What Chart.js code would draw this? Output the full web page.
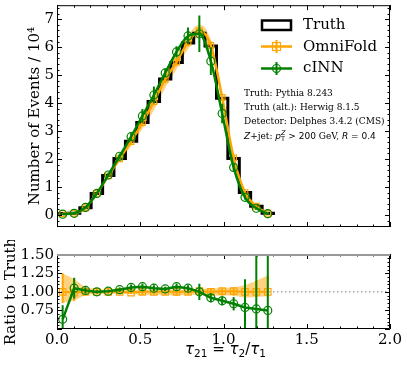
<!DOCTYPE html>
<html><head><meta charset="utf-8">
<script src="https://cdn.jsdelivr.net/npm/chart.js@4.4.0/dist/chart.umd.min.js"></script>
<style>
html,body{margin:0;padding:0;background:#fff;}
#wrap{position:relative;width:407px;height:368px;overflow:hidden;}
canvas{position:absolute;left:0;}
</style></head><body>
<div id="wrap">
<canvas id="top" width="407" height="240" style="top:0;width:407px;height:240px"></canvas>
<canvas id="bot" width="407" height="128" style="top:240px;width:407px;height:128px"></canvas>
</div>
<script>
// ---- data ----
const binEdges   = [0, 0.068, 0.137, 0.205, 0.274, 0.342, 0.411, 0.479, 0.547, 0.616, 0.684, 0.753, 0.821, 0.889, 0.958, 1.026, 1.095, 1.163, 1.232, 1.3];
const binCenters = [0.034, 0.103, 0.171, 0.239, 0.308, 0.376, 0.445, 0.513, 0.582, 0.650, 0.718, 0.787, 0.855, 0.924, 0.992, 1.061, 1.129, 1.197, 1.266];
const truth      = [0.05, 0.06, 0.26, 0.77, 1.41, 2.02, 2.64, 3.31, 4.06, 4.86, 5.45, 6.15, 6.50, 6.04, 4.17, 2.02, 0.80, 0.31, 0.06];
const omniFold   = [0.05, 0.06, 0.26, 0.77, 1.40, 2.01, 2.62, 3.30, 4.05, 4.85, 5.47, 6.18, 6.58, 6.06, 4.20, 2.04, 0.80, 0.31, 0.06];
const omniErrTop = [0.02, 0.02, 0.03, 0.04, 0.05, 0.06, 0.08, 0.10, 0.12, 0.12, 0.12, 0.15, 0.15, 0.15, 0.12, 0.08, 0.05, 0.03, 0.02];
const omniBandTop= [0.02, 0.02, 0.03, 0.05, 0.07, 0.10, 0.15, 0.22, 0.30, 0.30, 0.25, 0.25, 0.22, 0.20, 0.18, 0.12, 0.06, 0.03, 0.02];
const cinn       = [0.03, 0.06, 0.27, 0.77, 1.43, 2.10, 2.80, 3.54, 4.29, 5.08, 5.83, 6.40, 6.48, 5.50, 3.63, 1.70, 0.63, 0.24, 0.045];
const cinnErrTop = [0.02, 0.02, 0.03, 0.05, 0.07, 0.10, 0.12, 0.25, 0.30, 0.15, 0.20, 0.30, 0.65, 0.50, 0.35, 0.15, 0.08, 0.05, 0.03];
const omniRatio  = [1.00, 0.99, 1.00, 1.00, 1.00, 1.00, 0.99, 1.00, 1.00, 1.00, 1.00, 1.00, 1.01, 1.00, 1.01, 1.01, 1.00, 1.00, 1.00];
const omniRatioHi= [1.25, 1.17, 1.06, 1.04, 1.03, 1.03, 1.03, 1.03, 1.03, 1.03, 1.03, 1.03, 1.04, 1.05, 1.05, 1.06, 1.09, 1.15, 1.22];
const omniRatioLo= [0.85, 0.88, 0.96, 0.97, 0.97, 0.97, 0.97, 0.96, 0.96, 0.96, 0.95, 0.96, 0.96, 0.95, 0.95, 0.95, 0.92, 0.93, 0.94];
const cinnRatio  = [0.63, 1.05, 1.02, 1.00, 1.01, 1.03, 1.06, 1.07, 1.05, 1.04, 1.07, 1.05, 1.00, 0.92, 0.88, 0.84, 0.79, 0.77, 0.75];
const cinnRatioErr=[0.19, 0.14, 0.04, 0.02, 0.02, 0.03, 0.04, 0.04, 0.04, 0.03, 0.04, 0.04, 0.11, 0.06, 0.06, 0.09, 0.38, 1.00, 1.00];
const topYTicks  = [0, 1, 2, 3, 4, 5, 6, 7];
const ratioYTicks= [0.75, 1.00, 1.25, 1.50];
const xTicks     = [0, 0.5, 1.0, 1.5, 2.0];
const refLine    = [1, 1];

const ORANGE = '#FFA500', GREEN = '#008000';
const SERIF = "'DejaVu Serif', serif";
const SANS = "'DejaVu Sans', sans-serif";

const pts = (xs, ys) => xs.map((x, i) => ({x, y: ys[i]}));

// stepped truth outline built from bin edges
const truthStep = [{x: binEdges[0], y: 0}]
  .concat(truth.map((v, i) => ({x: binEdges[i], y: v})))
  .concat([{x: binEdges[binEdges.length - 1], y: truth[truth.length - 1]}, {x: binEdges[binEdges.length - 1], y: 0}]);

function minorList(lo, hi, step) {
  const out = [];
  for (let v = lo; v <= hi + 1e-9; v += step) out.push(+v.toFixed(4));
  return out;
}

const frameTicks = {
  id: 'frameTicks',
  afterDraw(chart, args, o) {
    const {ctx, chartArea: a, scales: {x, y}} = chart;
    ctx.save();
    ctx.strokeStyle = '#000';
    ctx.lineWidth = 1;
    const seg = (x1, y1, x2, y2) => { ctx.beginPath(); ctx.moveTo(x1, y1); ctx.lineTo(x2, y2); ctx.stroke(); };
    const doX = (vals, len) => vals.forEach(v => {
      if (v < x.min - 1e-9 || v > x.max + 1e-9) return;
      const p = Math.round(x.getPixelForValue(v)) + 0.5;
      seg(p, a.bottom, p, a.bottom - len); seg(p, a.top, p, a.top + len);
    });
    const doY = (vals, len) => vals.forEach(v => {
      if (v < y.min - 1e-9 || v > y.max + 1e-9) return;
      const p = Math.round(y.getPixelForValue(v)) + 0.5;
      seg(a.left, p, a.left + len, p); seg(a.right, p, a.right - len, p);
    });
    doX(o.xMajor, 5); doX(o.xMinor, 2.5);
    doY(o.yMajor, 5); doY(o.yMinor, 2.5);
    ctx.lineWidth = 1;
    ctx.beginPath();
    ctx.moveTo(a.left + 0.5, a.top); ctx.lineTo(a.left + 0.5, a.bottom - 0.5);
    ctx.lineTo(a.right - 0.5, a.bottom - 0.5); ctx.lineTo(a.right - 0.5, a.top);
    ctx.stroke();
    ctx.strokeStyle = o.topColor; ctx.lineWidth = o.topWidth;
    seg(a.left, a.top + o.topWidth / 2, a.right, a.top + o.topWidth / 2);
    ctx.restore();
  }
};

const errBars = {
  id: 'errBars',
  afterDatasetDraw(chart, args) {
    const ds = chart.data.datasets[args.index];
    if (!ds.errLo) return;
    const {ctx, chartArea: a, scales: {x, y}} = chart;
    ctx.save();
    ctx.beginPath(); ctx.rect(a.left, a.top, a.right - a.left, a.bottom - a.top); ctx.clip();
    ctx.strokeStyle = ds.errColor; ctx.lineWidth = ds.errWidth;
    ds.data.forEach((p, i) => {
      const px = x.getPixelForValue(p.x);
      ctx.beginPath();
      ctx.moveTo(px, y.getPixelForValue(ds.errLo[i]));
      ctx.lineTo(px, y.getPixelForValue(ds.errHi[i]));
      ctx.stroke();
    });
    ctx.restore();
  }
};

const annot = {
  id: 'annot',
  afterDraw(chart) {
    const ctx = chart.ctx;
    ctx.save();
    ctx.strokeStyle = '#000'; ctx.lineWidth = 2.5;
    ctx.strokeRect(262, 20.5, 29, 9.5);
    ctx.strokeStyle = ORANGE; ctx.lineWidth = 2.5;
    ctx.beginPath(); ctx.moveTo(261, 46.5); ctx.lineTo(292, 46.5); ctx.stroke();
    ctx.lineWidth = 2; ctx.beginPath(); ctx.moveTo(276.5, 40); ctx.lineTo(276.5, 53); ctx.stroke();
    ctx.lineWidth = 1.2; ctx.strokeRect(272.5, 42.5, 8, 8);
    ctx.strokeStyle = GREEN; ctx.lineWidth = 2.5;
    ctx.beginPath(); ctx.moveTo(261, 68.5); ctx.lineTo(292, 68.5); ctx.stroke();
    ctx.lineWidth = 2; ctx.beginPath(); ctx.moveTo(276.5, 62); ctx.lineTo(276.5, 75); ctx.stroke();
    ctx.lineWidth = 1.2; ctx.beginPath(); ctx.arc(276.5, 68.5, 4, 0, Math.PI * 2); ctx.stroke();
    ctx.fillStyle = '#000';
    ctx.textBaseline = 'middle'; ctx.textAlign = 'left';
    ctx.font = '15px ' + SERIF;
    ctx.fillText('Truth', 303, 25);
    ctx.fillText('OmniFold', 303, 47);
    ctx.fillText('cINN', 303, 68.5);
    ctx.font = '9px ' + SERIF;
    ctx.fillText('Truth: Pythia 8.243', 244, 93.5);
    ctx.fillText('Truth (alt.): Herwig 8.1.5', 244, 108);
    ctx.fillText('Detector: Delphes 3.4.2 (CMS)', 244, 122);
    let xx = 244; const yy = 136.5;
    const put = (t, font, dy) => { ctx.font = font; ctx.fillText(t, xx, yy + (dy || 0)); xx += ctx.measureText(t).width; };
    put('Z', 'italic 9px ' + SANS);
    put('+jet: ', '9px ' + SERIF);
    put('p', 'italic 9px ' + SANS);
    ctx.font = '6.5px ' + SANS; ctx.fillText('T', xx, yy + 2.5);
    const w1 = ctx.measureText('T').width;
    ctx.font = 'italic 6.5px ' + SANS; ctx.fillText('Z', xx, yy - 3.5);
    xx += Math.max(w1, ctx.measureText('Z').width);
    put(' > 200', '9px ' + SANS);
    put(' GeV, ', '9px ' + SERIF);
    put('R', 'italic 9px ' + SANS);
    put(' = 0.4', '9px ' + SANS);
    ctx.restore();
  }
};

// x-axis label with real sub-scripts, centred under the plot area
const xLabel = {
  id: 'xLabel',
  afterDraw(chart) {
    const {ctx, chartArea: a} = chart;
    ctx.save();
    ctx.fillStyle = '#000'; ctx.textBaseline = 'alphabetic'; ctx.textAlign = 'left';
    const parts = [
      ['τ', 'italic 15px ' + SANS, 0], ['21', '10.5px ' + SANS, 3],
      [' = ', '15px ' + SANS, 0],
      ['τ', 'italic 15px ' + SANS, 0], ['2', '10.5px ' + SANS, 3],
      ['/', '15px ' + SANS, 0],
      ['τ', 'italic 15px ' + SANS, 0], ['1', '10.5px ' + SANS, 3]
    ];
    let w = 0;
    parts.forEach(p => { ctx.font = p[1]; w += ctx.measureText(p[0]).width; });
    let xx = (a.left + a.right) / 2 - w / 2 + 2;
    const base = 114;
    parts.forEach(p => { ctx.font = p[1]; ctx.fillText(p[0], xx, base + p[2]); xx += ctx.measureText(p[0]).width; });
    ctx.restore();
  }
};

Chart.defaults.font.family = SERIF;
Chart.defaults.color = '#000';

new Chart(document.getElementById('top'), {
  type: 'line',
  data: {
    datasets: [
      {label: 'cINN', data: pts(binCenters, cinn), borderColor: GREEN, borderWidth: 2.5,
       cubicInterpolationMode: 'monotone', pointStyle: 'circle', pointRadius: 4, pointBorderWidth: 1.2,
       pointBorderColor: GREEN, pointBackgroundColor: 'rgba(0,0,0,0)', fill: false,
       errLo: cinn.map((v, i) => v - cinnErrTop[i]), errHi: cinn.map((v, i) => v + cinnErrTop[i]), errColor: GREEN, errWidth: 2},
      {label: 'OmniFold', data: pts(binCenters, omniFold), borderColor: ORANGE, borderWidth: 2.5,
       cubicInterpolationMode: 'monotone', pointStyle: 'rect', pointRadius: 4, pointBorderWidth: 1.2,
       pointBorderColor: ORANGE, pointBackgroundColor: 'rgba(0,0,0,0)', fill: false,
       errLo: omniFold.map((v, i) => v - omniErrTop[i]), errHi: omniFold.map((v, i) => v + omniErrTop[i]), errColor: ORANGE, errWidth: 2},
      {label: 'Truth', data: truthStep, borderColor: '#000', borderWidth: 3, stepped: 'before',
       pointRadius: 0, fill: false},
      {label: 'bandHi', data: pts(binCenters, omniFold.map((v, i) => v + omniBandTop[i])), borderWidth: 0,
       borderColor: 'rgba(0,0,0,0)', cubicInterpolationMode: 'monotone', pointRadius: 0,
       backgroundColor: 'rgba(255,165,0,0.5)', fill: '+1'},
      {label: 'bandLo', data: pts(binCenters, omniFold.map((v, i) => v - omniBandTop[i])), borderWidth: 0,
       borderColor: 'rgba(0,0,0,0)', cubicInterpolationMode: 'monotone', pointRadius: 0, fill: false}
    ]
  },
  options: {
    responsive: false, animation: false, devicePixelRatio: 1,
    layout: {padding: {left: 0, right: 17, top: 5, bottom: 0}},
    plugins: {
      legend: {display: false}, tooltip: {enabled: false},
      frameTicks: {xMajor: xTicks, xMinor: minorList(0, 2, 0.1), yMajor: topYTicks, yMinor: minorList(-0.4, 7.4, 0.2), topColor: '#000', topWidth: 1}
    },
    scales: {
      x: {type: 'linear', min: 0, max: 2, ticks: {display: false}, grid: {display: false, drawTicks: false}, border: {display: false},
          afterFit(s) { s.height = 13; s.paddingLeft = 0; s.paddingRight = 0; }},
      y: {type: 'linear', min: -0.43, max: 7.5,
          afterBuildTicks(s) { s.ticks = topYTicks.map(v => ({value: v})); },
          ticks: {font: {family: SERIF, size: 15}, color: '#000', padding: 3, callback: v => String(v)},
          grid: {display: false, drawTicks: false}, border: {display: false},
          title: {display: true, text: 'Number of Events / 10⁴', font: {family: SERIF, size: 15}, color: '#000', padding: {top: 26, bottom: 0}},
          afterFit(s) { s.width = 57; s.paddingTop = 0; s.paddingBottom = 0; }}
    }
  },
  plugins: [frameTicks, errBars, annot]
});

new Chart(document.getElementById('bot'), {
  type: 'line',
  data: {
    datasets: [
      {label: 'cINN', data: pts(binCenters, cinnRatio), borderColor: GREEN, borderWidth: 2.5, tension: 0,
       pointStyle: 'circle', pointRadius: 4, pointBorderWidth: 1.2, pointBorderColor: GREEN,
       pointBackgroundColor: 'rgba(0,0,0,0)', fill: false,
       errLo: cinnRatio.map((v, i) => v - cinnRatioErr[i]), errHi: cinnRatio.map((v, i) => v + cinnRatioErr[i]), errColor: GREEN, errWidth: 2},
      {label: 'OmniFold', data: pts(binCenters, omniRatio), borderColor: ORANGE, borderWidth: 2, tension: 0,
       pointStyle: 'rect', pointRadius: 4.5, pointBorderWidth: 1.2, pointBorderColor: ORANGE,
       pointBackgroundColor: 'rgba(0,0,0,0)', fill: false,
       errLo: omniRatioLo, errHi: omniRatioHi, errColor: ORANGE, errWidth: 2},
      {label: 'bandHi', data: pts(binCenters, omniRatioHi), borderWidth: 0, borderColor: 'rgba(0,0,0,0)',
       pointRadius: 0, tension: 0, backgroundColor: 'rgba(255,165,0,0.5)', fill: '+1'},
      {label: 'bandLo', data: pts(binCenters, omniRatioLo), borderWidth: 0, borderColor: 'rgba(0,0,0,0)',
       pointRadius: 0, tension: 0, fill: false},
      {label: 'ref', data: pts([0, 2], refLine), borderColor: '#aaaaaa', borderWidth: 1.5, borderDash: [1.5, 2.5],
       pointRadius: 0, fill: false}
    ]
  },
  options: {
    responsive: false, animation: false, devicePixelRatio: 1,
    layout: {padding: {left: 0, right: 17, top: 14, bottom: 0}},
    plugins: {
      legend: {display: false}, tooltip: {enabled: false},
      frameTicks: {xMajor: xTicks, xMinor: minorList(0, 2, 0.1), yMajor: [0.5].concat(ratioYTicks), yMinor: minorList(0.5, 1.5, 0.05), topColor: '#999999', topWidth: 2}
    },
    scales: {
      x: {type: 'linear', min: 0, max: 2,
          afterBuildTicks(s) { s.ticks = xTicks.map(v => ({value: v})); },
          ticks: {font: {family: SERIF, size: 15}, color: '#000', padding: 2, maxRotation: 0, callback: v => v.toFixed(1)},
          grid: {display: false, drawTicks: false}, border: {display: false},
          afterFit(s) { s.height = 39; s.paddingLeft = 0; s.paddingRight = 0; }},
      y: {type: 'linear', min: 0.5, max: 1.51,
          afterBuildTicks(s) { s.ticks = ratioYTicks.map(v => ({value: v})); },
          ticks: {font: {family: SERIF, size: 15}, color: '#000', padding: 3, callback: v => v.toFixed(2)},
          grid: {display: false, drawTicks: false}, border: {display: false},
          title: {display: true, text: 'Ratio to Truth', font: {family: SERIF, size: 15}, color: '#000', padding: {top: 2, bottom: 0}},
          afterFit(s) { s.width = 57; s.paddingTop = 0; s.paddingBottom = 0; }}
    }
  },
  plugins: [frameTicks, errBars, xLabel]
});
</script>
</body></html>
